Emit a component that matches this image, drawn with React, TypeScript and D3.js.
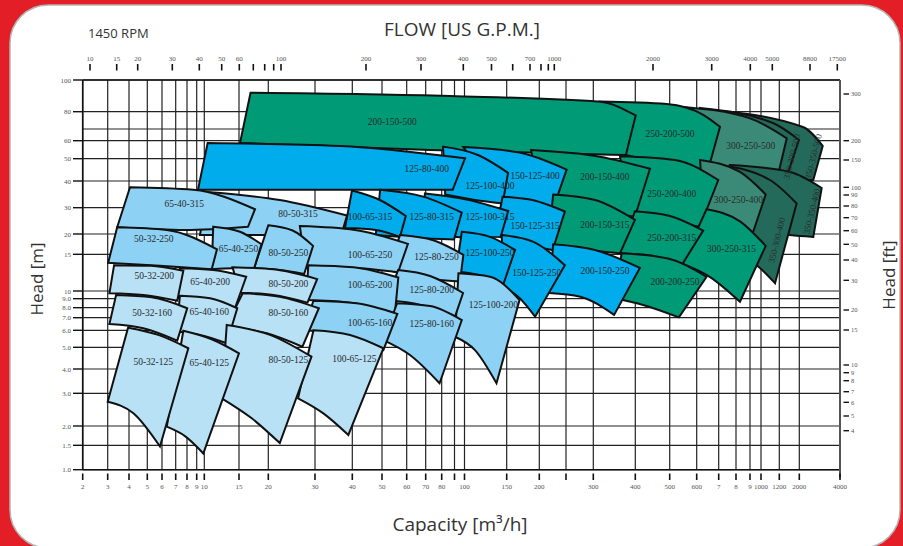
import React from 'react';
import * as d3 from 'd3';

type P = [number, number];
// [pump model, top edge points (Q m³/h, H m) left→right, bottom edge points left→right, label anchor]
type Tile = [string, P[], P[], P];

// ---------- DATA ----------
const capTicks = [2, 3, 4, 5, 6, 7, 8, 9, 10, 15, 20, 30, 40, 50, 60, 70, 80, 90, 100, 150, 200, 250, 300, 400, 500, 600, 700, 800, 900, 1000, 1200, 2000, 4000];
const capLabels = ['2', '3', '4', '5', '6', '7', '8', '9', '10', '15', '20', '30', '40', '50', '60', '70', '80', '', '100', '150', '200', '', '300', '400', '500', '600', '7', '8', '9', '1000', '1200', '2000', '4000'];

const headTicks = [1, 1.5, 2, 3, 4, 5, 6, 7, 8, 9, 10, 15, 20, 30, 40, 50, 60, 70, 80, 100];
const headLabels = ['1.0', '1.5', '2.0', '3.0', '4.0', '5.0', '6.0', '7.0', '8.0', '9.0', '10', '15', '20', '30', '40', '50', '60', '', '80', '100'];

const ftTicks = [4, 5, 6, 7, 8, 9, 10, 15, 20, 30, 40, 50, 60, 70, 80, 90, 100, 150, 200, 300];

const gpmTicks = [10, 15, 20, 30, 40, 50, 60, 70, 80, 90, 100, 200, 300, 400, 500, 600, 700, 800, 900, 1000, 2000, 3000, 4000, 5000, 8800, 17500];
const gpmLabels = ['10', '15', '20', '30', '40', '50', '60', '', '', '', '100', '200', '300', '400', '500', '', '700', '', '', '1000', '2000', '3000', '4000', '5000', '8800', '17500'];

const row500: Tile[] = [
  ['200-150-500', [[16.8, 91.4], [86.3, 89.3], [314, 85.8], [401, 77.7]], [[15.15, 58.6], [72.6, 54.6], [375, 51.9]], [53.9, 73.9]],
  ['250-200-500', [[314, 86], [491, 84.5], [628, 78.1], [707, 71.2]], [[375, 51.9], [501, 46.9], [650, 44.8]], [501, 65.5]],
  ['300-250-500', [[536, 82.9], [900, 76], [1452, 61.9]], [[636, 44.8], [827, 38.3], [1138, 35.6]], [907, 56.9]],
  ['350-300-500', [[614, 82.1], [1127, 73.3], [1982, 60.6]], [[707, 42.5], [990, 40.4], [1452, 41.8]], [1650, 51]],
  ['350-350-500', [[657, 81], [2127, 71.1], [2980, 56.9]], [[765, 42.5], [1222, 40.4], [2538, 40.4]], [2538, 51]],
];

const row400: Tile[] = [
  ['125-80-400', [[10.4, 58.6], [36.4, 56.9], [100.5, 50.2]], [[9.16, 36.4], [33.7, 36.4], [88.5, 36.4]], [70.6, 45.2]],
  ['125-100-400', [[81, 56.5], [113.8, 51.9], [151.8, 43.4]], [[82.6, 34.6], [110.6, 32.6], [144.3, 31.4]], [127.8, 38.1]],
  ['150-125-400', [[98.8, 56.3], [168, 53.2], [251, 44.8]], [[140.6, 32.6], [185.7, 30.9], [223.7, 29]], [192.7, 42.05]],
  ['200-150-400', [[186, 54.6], [314, 51], [440, 45.2]], [[201, 30.9], [294, 29], [399, 26.1]], [324.7, 41.9]],
  ['250-200-400', [[360, 51.3], [518, 49.4], [698, 40.4]], [[386, 26.8], [501, 24], [614, 22.4]], [506.8, 35]],
  ['300-250-400', [[614, 49.4], [827, 43.8], [1048, 34.6]], [[636, 22.9], [765, 21.3], [928, 20.7]], [816, 32.8]],
  ['350-300-400', [[707, 46.9], [1094, 40.4], [1869, 31.4]], [[827, 14.9], [990, 12.9], [1150, 10.9]], [1169, 18.3]],
  ['350-350-400', [[765, 46.9], [1578, 43.8], [2928, 37.1]], [[990, 21.3], [1578, 19.7], [2538, 19.2]], [2470, 28.3]],
];

const row315: Tile[] = [
  ['65-40-315', [[4.05, 37.4], [8.63, 36.4], [17.55, 29.3]], [[3.41, 22.2], [7.81, 21.3], [16.4, 22.4]], [7.74, 31.4]],
  ['80-50-315', [[10.3, 35.5], [22.1, 32.6], [38.4, 26.6]], [[9.42, 19.7], [20.3, 19.7], [36.3, 18.3]], [25.9, 27.5]],
  ['100-65-315', [[39.9, 36.1], [49.2, 32.6], [59.6, 26.4]], [[37.8, 21.9], [47.7, 21.3], [57.1, 19.2]], [45.7, 26.2]],
  ['125-80-315', [[49.3, 36.4], [68.6, 33.8], [97.2, 27.8]], [[47.7, 19.7], [64.7, 18.9], [89.6, 18.5]], [73.6, 26.1]],
  ['125-100-315', [[69.6, 35], [102, 32.8], [152, 28.5]], [[67.1, 20.6], [95.4, 19.1], [141.6, 19.2]], [127.8, 26.1]],
  ['150-125-315', [[144.3, 33.8], [190, 32.5], [247.6, 28.3]], [[134, 19.7], [176.3, 17.1], [223.7, 15.95]], [192.7, 22.6]],
  ['200-150-315', [[224.6, 34.6], [303.5, 32.6], [399, 24.9]], [[214.6, 16.4], [283.7, 15.95], [360, 15.2]], [324.7, 23.2]],
  ['250-200-315', [[399, 28.4], [501, 26.4], [628, 21.1]], [[360, 15.2], [440, 14.8], [542, 13.3]], [507, 19]],
  ['300-250-315', [[643, 29.3], [827, 24.3], [1048, 16.9]], [[542, 13.55], [657, 11.7], [827, 8.65]], [773, 16.3]],
];

const row250: Tile[] = [
  ['50-32-250', [[3.41, 22.2], [6.33, 21.3], [11.6, 16.1]], [[3.02, 13.67], [5.85, 13.2], [10.9, 12.7]], [5.42, 18.8]],
  ['65-40-250', [[11.1, 22.4], [15.15, 20.7], [18.7, 17.3]], [[10.9, 12.7], [14, 12.85], [17.4, 12.85]], [14.9, 16.2]],
  ['80-50-250', [[20, 22.9], [24.7, 21.1], [29.5, 16.9]], [[17.4, 12.85], [22.1, 12.6], [27.3, 12.06]], [23.8, 15.3]],
  ['100-65-250', [[26.3, 22.6], [40.8, 21.3], [60.6, 17.4]], [[27.7, 12.9], [39.3, 12.9], [56.3, 12.3]], [45.7, 14.9]],
  ['125-80-250', [[57.1, 19.7], [74.6, 18.3], [98.8, 14.9]], [[52.2, 12.6], [69.8, 11.5], [95.4, 11.1]], [76.6, 14.6]],
  ['125-100-250', [[97.2, 20.7], [127.8, 19.2], [161.5, 15.95]], [[91.4, 12.4], [116, 11.9], [145, 10.7]], [127.8, 15.3]],
  ['150-125-250', [[143, 19.7], [190, 17.9], [247.6, 13.3]], [[145, 10.5], [168, 9.08], [192.7, 7.1]], [195.5, 12.2]],
  ['200-150-250', [[224.6, 17.3], [303.5, 15.95], [412, 12.9]], [[217, 9.73], [275, 9.25], [346, 7.27]], [325, 12.5]],
  ['200-200-250', [[364, 15.2], [491, 14.35], [643, 11.7]], [[348.5, 9.05], [421, 8.29], [532, 7.03]], [518, 11.1]],
];

const row200: Tile[] = [
  ['50-32-200', [[3.27, 13.3], [5.19, 13.2], [7.66, 12.5]], [[3.07, 9.69], [4.76, 9.47], [7.13, 8.77]], [5.45, 11.9]],
  ['65-40-200', [[7.36, 12.85], [11.1, 12.6], [16.1, 11.7]], [[7.13, 9.17], [10.3, 8.77], [14.3, 7.94]], [10.7, 11.1]],
  ['80-50-200', [[13.9, 13], [20.9, 12.7], [30.5, 11.4]], [[15.2, 9.77], [20.9, 9.47], [28.1, 8.55]], [23.8, 10.89]],
  ['100-65-200', [[28.3, 13.3], [40.3, 13], [56.4, 11.6]], [[27.8, 8.84], [39.3, 8.55], [55, 7.42]], [45.7, 10.7]],
  ['125-80-200', [[56.3, 12.6], [72.6, 11.8], [98.5, 9.73]], [[51.9, 8.84], [67.1, 8.29], [90.4, 7.08]], [73.6, 10.1]],
  ['125-100-200', [[93.8, 12.15], [127.8, 11.7], [168, 8.84]], [[90.5, 5.6], [110.6, 4.86], [136, 3.38]], [132, 8.36]],
];

const row160: Tile[] = [
  ['50-32-160', [[3.36, 9.47], [5.28, 9.17], [8.02, 7.94]], [[3.07, 6.48], [4.76, 6.15], [7.13, 5.37]], [5.31, 7.52]],
  ['65-40-160', [[7.36, 9.38], [10.7, 9.05], [14.7, 7.94]], [[7.06, 5.92], [9.42, 5.71], [13, 5.22]], [10.6, 7.58]],
  ['80-50-160', [[15.55, 9.69], [22.1, 9.25], [30.9, 7.94]], [[12.9, 6.27], [19.7, 5.81], [26.9, 5.03]], [23.8, 7.52]],
  ['100-65-160', [[29.6, 8.77], [41.3, 8.48], [56, 7.37]], [[27.1, 6], [37.3, 5.71], [50.5, 4.86]], [45.7, 6.57]],
  ['125-80-160', [[55.9, 8.48], [72.6, 8.18], [97.2, 6.8]], [[50.5, 5.4], [61.6, 4.62], [78.6, 3.38]], [73.6, 6.53]],
];

const row125: Tile[] = [
  ['50-32-125', [[3.95, 6.19], [5.73, 5.71], [8.13, 4.95]], [[3, 2.7], [4.22, 2.34], [5.85, 1.47]], [5.38, 4.31]],
  ['65-40-125', [[7.66, 5.97], [10.9, 5.45], [15, 4.7]], [[6.33, 1.98], [7.81, 1.72], [9.87, 1.31]], [10.6, 4.28]],
  ['80-50-125', [[13, 6.4], [20.3, 5.71], [29.1, 4.54]], [[12.25, 2.82], [17, 2.2], [22.1, 1.55]], [23.8, 4.42]],
  ['100-65-125', [[29.6, 6], [39.3, 5.71], [50.5, 4.95]], [[25.9, 2.82], [32, 2.34], [38.8, 1.75]], [40.6, 4.46]],
];

// colour groups (categorical membership)
const groupLight = ['50-32-125', '65-40-125', '80-50-125', '100-65-125', '50-32-160', '65-40-160', '80-50-160', '50-32-200', '65-40-200', '80-50-200'];
const groupMedium = ['100-65-160', '125-80-160', '100-65-200', '125-80-200', '125-100-200', '50-32-250', '65-40-250', '80-50-250', '100-65-250', '125-80-250', '65-40-315', '80-50-315'];
const groupBright = ['125-100-250', '150-125-250', '200-150-250', '100-65-315', '125-80-315', '125-100-315', '150-125-315', '125-80-400', '125-100-400', '150-125-400'];
const groupTeal = ['300-250-400', '300-250-500'];
const groupDark = ['350-300-400', '350-350-400', '350-300-500', '350-350-500'];

// ---------- LAYOUT ----------
const W = 903, H = 546;
const plotL = 82.7, plotR = 840, plotT = 80, plotB = 469.7;
const capPos = [82.7, 107.7, 129, 147.3, 162, 175.7, 187, 196.7, 204.3, 239, 268.3, 315, 352.3, 382, 406.7, 425.7, 441.7, 454.5, 464.5, 506.7, 539.3, 566, 593.3, 635.3, 669.7, 696.7, 718.7, 736, 750, 761, 779.3, 799.3, 840];
const headPos = [469.7, 445.3, 426, 393.3, 369, 347.3, 330.3, 317.7, 307.7, 298.7, 291, 254.3, 234, 207.7, 181, 158.7, 140.7, 129, 111.7, 80];
const ftPos = [430.7, 416, 402.3, 391.7, 380.7, 372.7, 365, 330, 310, 280.3, 260, 244.3, 230.7, 217.7, 206, 195, 187.3, 160, 140.7, 94];
const gpmPos = [90, 116.7, 137.7, 172.3, 199.3, 221.7, 239.3, 253.3, 264.7, 273.7, 281, 366, 421, 463.3, 491.5, 512.7, 530, 541, 548.3, 554.3, 653, 711.7, 750.3, 772.3, 810, 837.3];

const colors: Record<string, string> = {
  light: '#b8e1f6',
  medium: '#8dd2f4',
  bright: '#00acec',
  green: '#009a77',
  teal: '#3b8a77',
  dark: '#236a5a',
};

function groupOf(name: string): string {
  if (groupLight.includes(name)) return 'light';
  if (groupMedium.includes(name)) return 'medium';
  if (groupBright.includes(name)) return 'bright';
  if (groupTeal.includes(name)) return 'teal';
  if (groupDark.includes(name)) return 'dark';
  return 'green';
}

const serif = "'Liberation Serif', 'DejaVu Serif', serif";
const sans = "'Open Sans', 'Noto Sans', sans-serif";

export default function App() {
  const x = d3.scaleLog().domain(capTicks).range(capPos);
  const y = d3.scaleLog().domain(headTicks).range(headPos);
  const yFt = d3.scaleLog().domain(ftTicks).range(ftPos);
  const xG = d3.scaleLog().domain(gpmTicks).range(gpmPos);

  const line = d3.line<P>().x(d => x(d[0])).y(d => y(d[1])).curve(d3.curveMonotoneX);
  const tilePath = (top: P[], bottom: P[]) => {
    const a = line(top) as string;
    const b = line(bottom.slice().reverse()) as string;
    return a + 'L' + b.slice(1) + 'Z';
  };

  const rows = [row500, row400, row315, row250, row200, row160, row125];
  const drawOrder: Tile[] = [];
  rows.forEach(r => r.slice().reverse().forEach(t => drawOrder.push(t)));

  return (
    <svg width={W} height={H} style={{ position: 'absolute', left: 0, top: 0, background: '#e41e26' }}>
      <rect x={0} y={0} width={W} height={H} fill="#e41e26" />
      <rect x={10} y={5} width={890} height={543} rx={38} ry={38} fill="#ffffff" stroke="#b5b5b5" strokeWidth={1.5} />

      {/* titles */}
      <text x={88} y={38} fontFamily={sans} fontSize={13} fill="#333">1450 RPM</text>
      <text x={462} y={36} textAnchor="middle" fontFamily={sans} fontSize={19} fill="#333">FLOW [US G.P.M.]</text>
      <text x={460} y={531} textAnchor="middle" fontFamily={sans} fontSize={19} fill="#333">Capacity [m³/h]</text>
      <text transform="translate(43,279) rotate(-90)" textAnchor="middle" fontFamily={sans} fontSize={17} fill="#333">Head [m]</text>
      <text transform="translate(895,275) rotate(-90)" textAnchor="middle" fontFamily={sans} fontSize={17} fill="#333">Head [ft]</text>

      {/* grid */}
      <g stroke="#222" strokeWidth={1.2}>
        {capTicks.map((v, i) => (
          <line key={'vg' + i} x1={x(v)} x2={x(v)} y1={plotT} y2={plotB} />
        ))}
        {headTicks.map((v, i) => (
          <line key={'hg' + i} x1={plotL} x2={plotR} y1={y(v)} y2={y(v)} />
        ))}
      </g>

      {/* tiles */}
      <g stroke="#111" strokeWidth={2} strokeLinejoin="miter">
        {drawOrder.map(t => (
          <path key={t[0]} d={tilePath(t[1], t[2])} fill={colors[groupOf(t[0])]} />
        ))}
      </g>

      {/* tile labels */}
      <g fontFamily={serif} fontSize={9.5} fill="#2a2a2a" textAnchor="middle">
        {drawOrder.map(t => {
          const lx = x(t[3][0]);
          const ly = y(t[3][1]);
          const rot = t[0].startsWith('350-');
          return (
            <text key={'l' + t[0]} transform={`translate(${lx},${ly})${rot ? ' rotate(-76)' : ''}`} dy="0.35em" fontSize={rot ? 9 : 9.5}>
              {t[0]}
            </text>
          );
        })}
      </g>

      {/* frame */}
      <g stroke="#111" strokeWidth={1.6} fill="none">
        <line x1={plotL} x2={plotR} y1={plotT} y2={plotT} />
        <line x1={plotL} x2={plotR} y1={plotB} y2={plotB} />
        <line x1={plotL} x2={plotL} y1={plotT} y2={plotB} />
        <line x1={plotR} x2={plotR} y1={plotT} y2={plotB + 8} stroke="#555" strokeWidth={2} />
      </g>

      {/* bottom axis */}
      <g fontFamily={serif} fontSize={7} fill="#555" textAnchor="middle">
        {capTicks.map((v, i) => (
          <g key={'bt' + i}>
            <line x1={x(v)} x2={x(v)} y1={473.5} y2={480} stroke="#111" strokeWidth={1.6} />
            <text x={x(v)} y={489}>{capLabels[i]}</text>
          </g>
        ))}
      </g>

      {/* top axis (US GPM) */}
      <g fontFamily={serif} fontSize={7} fill="#555" textAnchor="middle">
        {gpmTicks.map((v, i) => (
          <g key={'tt' + i}>
            <line x1={xG(v)} x2={xG(v)} y1={64} y2={70.5} stroke="#111" strokeWidth={1.6} />
            <text x={xG(v)} y={61}>{gpmLabels[i]}</text>
          </g>
        ))}
      </g>

      {/* left axis */}
      <g fontFamily={serif} fontSize={7} fill="#555" textAnchor="end">
        {headTicks.map((v, i) =>
          headLabels[i] ? (
            <g key={'lt' + i}>
              <line x1={73} x2={plotL} y1={y(v)} y2={y(v)} stroke="#111" strokeWidth={1.4} />
              <text x={71} y={y(v) + 2.5}>{headLabels[i]}</text>
            </g>
          ) : null
        )}
      </g>

      {/* right axis (ft) */}
      <g fontFamily={serif} fontSize={6.5} fill="#555" textAnchor="start">
        {ftTicks.map((v, i) => (
          <g key={'rt' + i}>
            <line x1={843.5} x2={849} y1={yFt(v)} y2={yFt(v)} stroke="#111" strokeWidth={1.4} />
            <text x={851} y={yFt(v) + 2.3}>{String(v)}</text>
          </g>
        ))}
      </g>
    </svg>
  );
}
